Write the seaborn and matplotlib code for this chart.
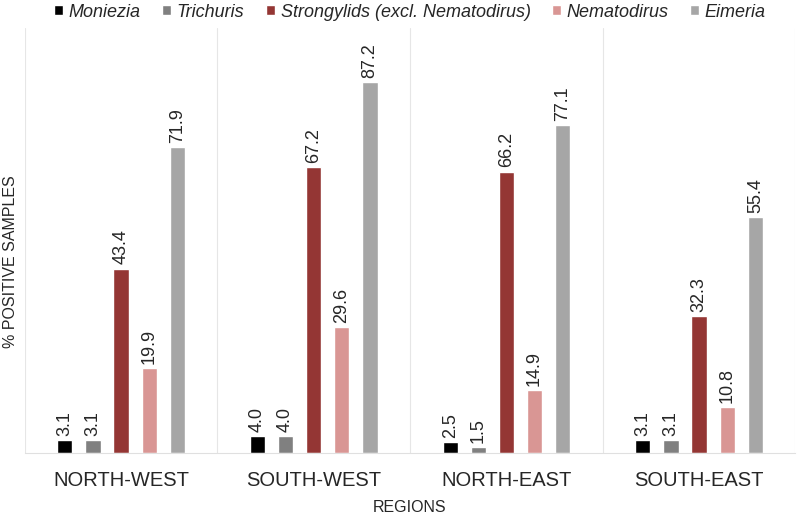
import matplotlib
matplotlib.use("Agg")
import matplotlib.pyplot as plt
import pandas as pd
import seaborn as sns

regions = ["NORTH-WEST", "SOUTH-WEST", "NORTH-EAST", "SOUTH-EAST"]
parasites = ["Moniezia", "Trichuris", "Strongylids (excl. Nematodirus)", "Nematodirus", "Eimeria"]
moniezia = [3.1, 4.0, 2.5, 3.1]
trichuris = [3.1, 4.0, 1.5, 3.1]
strongylids = [43.4, 67.2, 66.2, 32.3]
nematodirus = [19.9, 29.6, 14.9, 10.8]
eimeria = [71.9, 87.2, 77.1, 55.4]
colors = ["#000000", "#808080", "#943634", "#D99694", "#A6A6A6"]

rows = []
for name, vals in zip(parasites, [moniezia, trichuris, strongylids, nematodirus, eimeria]):
    for reg, v in zip(regions, vals):
        rows.append({"region": reg, "parasite": name, "pct": v})
df = pd.DataFrame(rows)

sns.set_style("white")
plt.rcParams["font.family"] = ["Liberation Sans", "DejaVu Sans"]

fig = plt.figure(figsize=(7.97, 5.16), dpi=100)
ax = fig.add_axes([0.031, 0.122, 0.967, 0.824])
sns.barplot(data=df, x="region", y="pct", hue="parasite", order=regions,
            hue_order=parasites, palette=colors, width=0.73, gap=0.46,
            saturation=1, errorbar=None, ax=ax, legend=True)

for cont in ax.containers:
    ax.bar_label(cont, fmt="%.1f", rotation=90, padding=3, fontsize=13)

ax.set_ylim(0, 100)
ax.set_xlim(-0.5, 3.5)
ax.set_yticks([])
for xb in [-0.5, 0.5, 1.5, 2.5, 3.5]:
    ax.axvline(xb, color="#e6e6e6", lw=0.8, zorder=0)
for s in ["top", "right", "left"]:
    ax.spines[s].set_visible(False)
ax.spines["bottom"].set_color("#e0e0e0")
ax.tick_params(axis="x", length=0, labelsize=14.5, pad=13)
ax.set_xlabel("REGIONS", fontsize=11.5, labelpad=7)
ax.set_ylabel("% POSITIVE SAMPLES", fontsize=11.5)
ax.yaxis.set_label_coords(-0.009, 0.45)

handles, labels = ax.get_legend_handles_labels()
ax.legend(handles, labels, loc="upper center", bbox_to_anchor=(0.5, 1.095),
          ncol=5, frameon=False, prop={"style": "italic", "size": 13},
          handlelength=0.5, handleheight=0.5, handletextpad=0.3, columnspacing=1.2)

fig.savefig("out.png", dpi=100)
